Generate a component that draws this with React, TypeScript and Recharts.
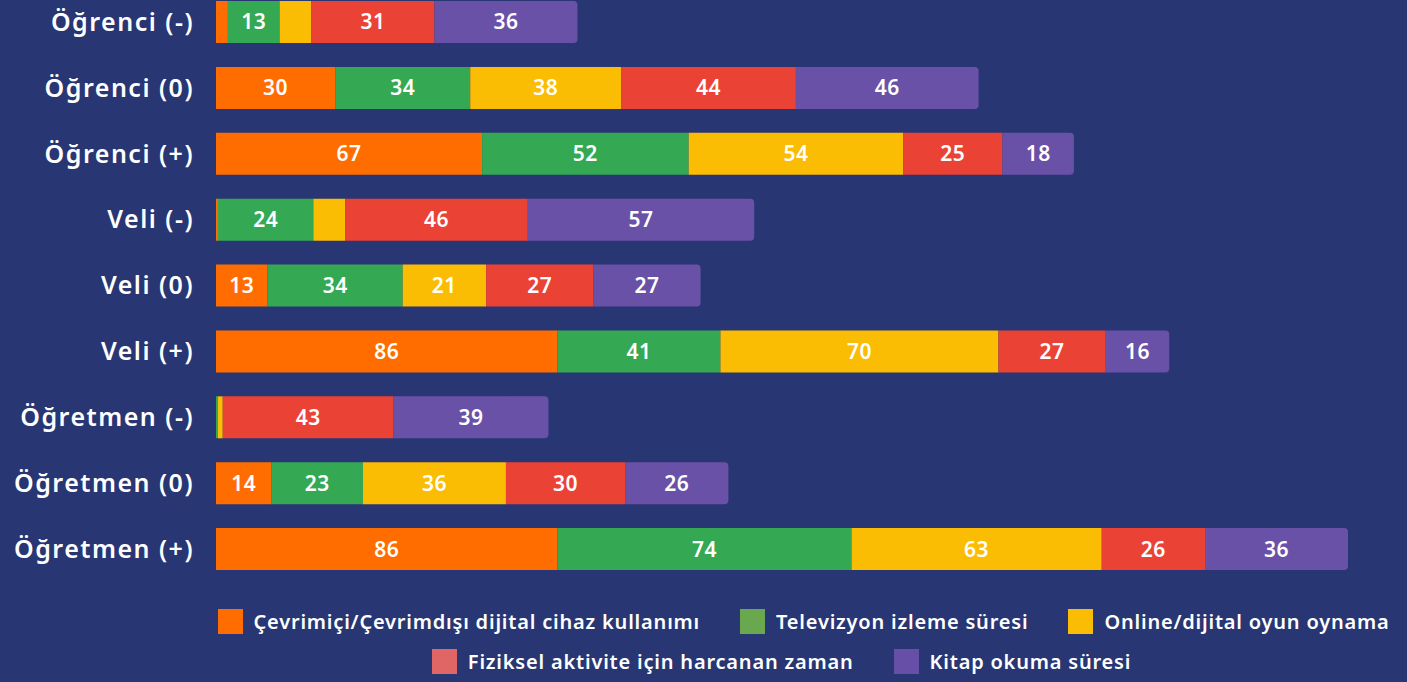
import { Bar, BarChart, LabelList, XAxis, YAxis } from 'recharts';

const categories = [
  'Öğrenci (-)',
  'Öğrenci (0)',
  'Öğrenci (+)',
  'Veli (-)',
  'Veli (0)',
  'Veli (+)',
  'Öğretmen (-)',
  'Öğretmen (0)',
  'Öğretmen (+)'
];

const dijital = [3, 30, 67, 0.5, 13, 86, 0, 14, 86];
const televizyon = [13, 34, 52, 24, 34, 41, 0.5, 23, 74];
const oyun = [8, 38, 54, 8, 21, 70, 1.2, 36, 63];
const fiziksel = [31, 44, 25, 46, 27, 27, 43, 30, 26];
const kitap = [36, 46, 18, 57, 27, 16, 39, 26, 36];

const series = [
  { key: 'dijital', name: 'Çevrimiçi/Çevrimdışı dijital cihaz kullanımı', values: dijital, bar: '#ff6d01', legend: '#ff6d01' },
  { key: 'televizyon', name: 'Televizyon izleme süresi', values: televizyon, bar: '#34a853', legend: '#6aa84f' },
  { key: 'oyun', name: 'Online/dijital oyun oynama', values: oyun, bar: '#fbbc04', legend: '#fbbc04' },
  { key: 'fiziksel', name: 'Fiziksel aktivite için harcanan zaman', values: fiziksel, bar: '#ea4335', legend: '#e06666' },
  { key: 'kitap', name: 'Kitap okuma süresi', values: kitap, bar: '#6a51a8', legend: '#674ea7' }
];

const data = categories.map((group, i) => {
  const row: Record<string, string | number> = { group };
  series.forEach((s) => {
    row[s.key] = s.values[i];
  });
  return row;
});

const font = '"Noto Sans", sans-serif';
const bg = '#283673';

const LegendRow = ({ items, shift }: { items: typeof series; shift: number }) => (
  <div
    style={{
      display: 'flex',
      justifyContent: 'center',
      gap: 40,
      height: 40,
      alignItems: 'center',
      transform: `translateX(${shift}px)`
    }}
  >
    {items.map((s) => (
      <div key={s.key} style={{ display: 'flex', alignItems: 'center', gap: 11 }}>
        <div style={{ width: 25, height: 25, background: s.legend }} />
        <span style={{ color: '#fff', fontSize: 20, fontWeight: 600, fontFamily: font, letterSpacing: 0.8 }}>
          {s.name}
        </span>
      </div>
    ))}
  </div>
);

export default function App() {
  return (
    <div
      style={{
        position: 'absolute',
        top: 0,
        left: 0,
        width: 1407,
        height: 682,
        background: bg,
        overflow: 'hidden'
      }}
    >
      <div style={{ position: 'absolute', top: -11, left: 0 }}>
        <BarChart
          width={1407}
          height={693}
          data={data}
          layout="vertical"
          margin={{ top: 0, right: 59, bottom: 100, left: 0 }}
          barSize={42}
        >
          <XAxis type="number" domain={[0, 285]} hide />
          <YAxis
            type="category"
            dataKey="group"
            width={216}
            axisLine={false}
            tickLine={false}
            tickSize={0}
            tickMargin={22}
            tick={{ fill: '#fff', fontSize: 25, fontWeight: 600, fontFamily: font, letterSpacing: 1.5 }}
          />
          {series.map((s, idx) => (
            <Bar
              key={s.key}
              dataKey={s.key}
              name={s.name}
              stackId="a"
              fill={s.bar}
              isAnimationActive={false}
              radius={idx === series.length - 1 ? [0, 4, 4, 0] : 0}
            >
              <LabelList
                dataKey={s.key}
                position="center"
                fill="#fff"
                fontSize={21}
                fontWeight={600}
                fontFamily={font}
                letterSpacing={0.5}
                formatter={(v: any) => (Number(v) >= 10 ? v : '')}
              />
            </Bar>
          ))}
        </BarChart>
      </div>
      <div style={{ position: 'absolute', top: 601, left: 200, width: 1207 }}>
        <LegendRow items={series.slice(0, 3)} shift={0} />
        <LegendRow items={series.slice(3)} shift={-22} />
      </div>
    </div>
  );
}
